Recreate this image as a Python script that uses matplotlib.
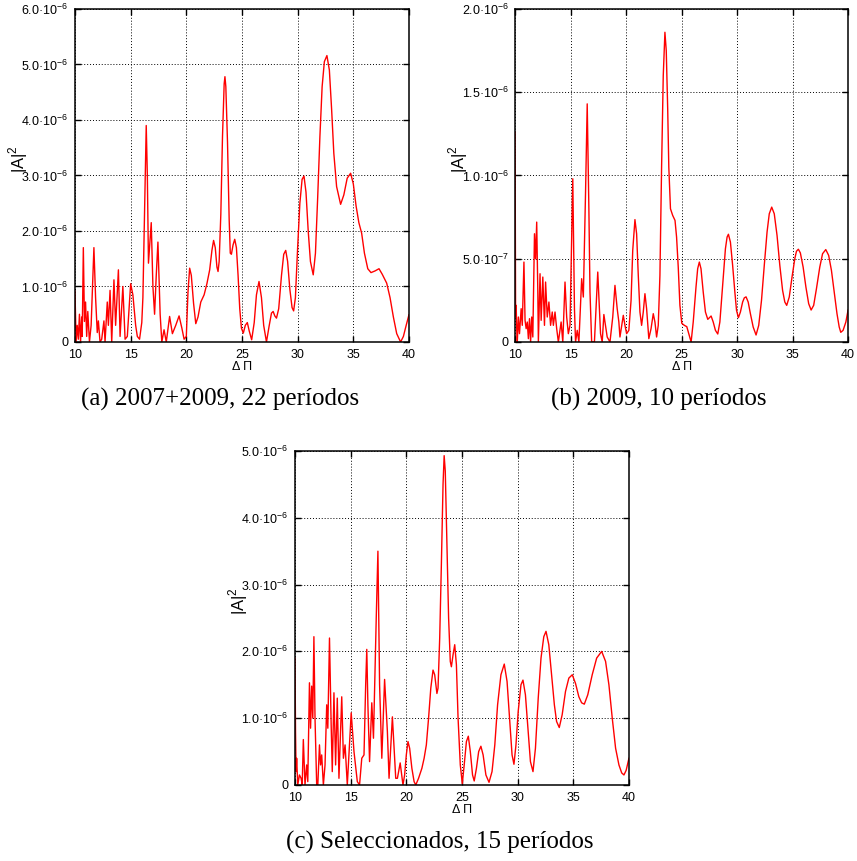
import matplotlib
matplotlib.use("Agg")
import matplotlib.pyplot as plt
from matplotlib.ticker import FixedLocator, FuncFormatter

plt.rcParams['font.family'] = ['Liberation Sans', 'DejaVu Sans']
plt.rcParams['mathtext.fontset'] = 'custom'
plt.rcParams['mathtext.rm'] = 'Liberation Sans'

# (a) 2007+2009, 22 periodos  -- |A|^2 in units of 1e-6
dp_a = [10.0, 10.1, 10.2, 10.3, 10.4, 10.5, 10.6, 10.65, 10.75, 10.85, 10.95, 11.05,
        11.15, 11.3, 11.45, 11.7, 11.85, 12.0, 12.1, 12.25, 12.4, 12.6, 12.7, 12.9,
        13.0, 13.15, 13.3, 13.5, 13.65, 13.9, 14.05, 14.3, 14.5, 14.7, 15.0, 15.2,
        15.45, 15.6, 15.8, 16.0, 16.1, 16.25, 16.4, 16.5, 16.6, 16.85, 17.0, 17.15,
        17.3, 17.45, 17.65, 17.8, 18.0, 18.2, 18.5, 18.75, 19.05, 19.35, 19.6, 19.8,
        20.0,
        20.15, 20.3, 20.45, 20.65, 20.85, 21.05, 21.3, 21.6, 21.85, 22.1, 22.3, 22.45,
        22.6, 22.75, 22.85, 22.95, 23.1, 23.25, 23.4, 23.47, 23.55, 23.7, 23.85, 23.95,
        24.05, 24.2,
        24.35, 24.5, 24.65, 24.8, 24.95, 25.12, 25.3, 25.48, 25.65, 25.87, 26.1, 26.3,
        26.53, 26.75, 26.95, 27.2, 27.45, 27.65, 27.8, 27.95, 28.1, 28.3, 28.55, 28.75,
        28.93, 29.1, 29.3, 29.5, 29.64, 29.8, 30.0, 30.2, 30.4, 30.57, 30.75, 30.95,
        31.15, 31.4, 31.6, 31.8, 32.0, 32.2, 32.4, 32.63, 32.85, 33.05, 33.25, 33.5,
        33.86, 34.15, 34.45, 34.76, 35.0, 35.25, 35.5, 35.75, 36.0, 36.3, 36.59, 36.95,
        37.31, 37.6, 38.0, 38.3, 38.6, 38.9, 39.25, 39.5, 39.75, 40.0]
pw_a = [0.92, 0.0, 0.3, 0.05, 0.5, 0.0, 0.45, 0.1, 1.7, 0.37, 0.72, 0.1,
        0.55, 0.0, 0.3, 1.7, 0.8, 0.17, 0.38, 0.0, 0.05, 0.38, 0.0, 0.72,
        0.3, 0.93, 0.0, 1.12, 0.3, 1.3, 0.1, 1.0, 0.05, 0.1, 1.05, 0.85,
        0.3, 0.1, 0.05, 0.35, 0.8, 2.4, 3.9, 3.0, 1.42, 2.15, 1.0, 0.5,
        1.2, 1.8, 0.5, 0.0, 0.22, 0.0, 0.46, 0.15, 0.3, 0.47, 0.25, 0.05,
        0.1,
        0.9, 1.33, 1.2, 0.7, 0.33, 0.45, 0.72, 0.85, 1.05, 1.3, 1.65, 1.83,
        1.7, 1.35, 1.27, 1.45, 2.3, 3.7, 4.65, 4.78, 4.6, 3.6, 2.2, 1.6,
        1.58, 1.75,
        1.85, 1.7, 1.2, 0.6, 0.25, 0.16, 0.3, 0.35, 0.2, 0.04, 0.35, 0.85,
        1.09, 0.8, 0.3, 0.0, 0.3, 0.52, 0.55, 0.47, 0.43, 0.6, 1.2, 1.58,
        1.65, 1.45, 0.95, 0.62, 0.56, 0.8, 1.7, 2.5, 2.93, 2.99, 2.7, 2.0,
        1.45, 1.21, 1.6, 2.6, 3.7, 4.6, 5.05, 5.16, 4.9, 4.2, 3.4, 2.8,
        2.48, 2.65, 2.95, 3.04, 2.85, 2.45, 2.15, 1.96, 1.6, 1.32, 1.25, 1.28,
        1.32, 1.22, 1.06, 0.8, 0.45, 0.15, 0.0, 0.1, 0.3, 0.49]

# (b) 2009, 10 periodos  -- |A|^2 in units of 1e-7
dp_b = [10.0, 10.05, 10.1, 10.15, 10.2, 10.3, 10.4, 10.55, 10.65, 10.8, 10.9, 11.0,
        11.1, 11.2, 11.3, 11.4, 11.5, 11.6, 11.75, 11.85, 11.95, 12.05, 12.1, 12.25,
        12.35, 12.5, 12.65, 12.75, 12.9, 13.05, 13.2, 13.35, 13.45, 13.6, 13.75, 13.9,
        14.15, 14.3, 14.5, 14.65, 14.8, 14.95, 15.2, 15.35, 15.45, 15.6, 15.75, 16.0,
        16.15, 16.35, 16.5, 16.65, 16.75, 16.9, 17.15, 17.45, 17.7, 17.85, 18.0, 18.3,
        18.55, 18.8, 19.0, 19.2, 19.35, 19.45, 19.75,
        19.9, 20.05, 20.25, 20.45, 20.6, 20.8, 20.95, 21.1, 21.25, 21.4, 21.55, 21.7,
        21.85, 22.05, 22.25, 22.45, 22.6, 22.75, 22.9, 23.05, 23.2, 23.35, 23.5, 23.62,
        23.75, 23.85, 24.0, 24.2,
        24.41, 24.55, 24.7, 24.85, 25.02, 25.25, 25.47, 25.65, 25.86, 26.05, 26.3, 26.45,
        26.6, 26.75, 26.95, 27.15, 27.36, 27.5, 27.66, 27.85, 28.05, 28.26, 28.45, 28.7,
        28.95, 29.1, 29.22, 29.4, 29.6, 29.8, 29.95, 30.12, 30.3, 30.5, 30.65, 30.81,
        31.0, 31.2, 31.45, 31.71, 31.95, 32.2, 32.45, 32.7, 32.9, 33.12, 33.35, 33.6,
        33.85, 34.1, 34.3, 34.47, 34.7, 34.95, 35.2, 35.35, 35.52, 35.7, 35.95, 36.2,
        36.45, 36.67, 36.9, 37.15, 37.45, 37.7, 37.99, 38.25, 38.5, 38.75, 39.0, 39.2,
        39.34, 39.55, 39.8, 40.0]
pw_b = [12.6, 1.5, 2.2, 0.8, 0.0, 1.5, 0.5, 2.0, 1.0, 4.8, 1.3, 0.8,
        1.2, 0.2, 1.4, 0.0, 1.5, 0.3, 6.5, 5.0, 7.2, 3.0, 0.0, 4.1,
        1.3, 3.9, 1.0, 3.6, 1.5, 2.4, 1.0, 1.8, 1.0, 1.8, 0.8, 0.0,
        1.2, 0.0, 3.6, 1.5, 0.5, 1.0, 9.8, 2.0, 0.0, 0.7, 0.0, 3.8,
        2.7, 9.0, 14.3, 8.0, 3.0, 0.0, 0.0, 4.2, 0.5, 0.0, 1.65, 0.3,
        0.0, 1.5, 3.4, 2.0, 1.2, 0.3, 1.6,
        1.0, 0.5, 0.7, 2.5, 5.5, 7.35, 6.5, 4.0, 1.8, 1.0, 1.8, 2.9,
        2.0, 0.2, 0.8, 1.7, 1.2, 0.3, 1.0, 4.0, 10.5, 16.0, 18.6, 17.5,
        14.0, 10.5, 8.0, 7.6,
        7.3, 6.3, 4.5, 2.2, 1.12, 1.0, 0.92, 0.5, 0.0, 1.2, 3.3, 4.4,
        4.8, 4.4, 3.0, 1.8, 1.36, 1.45, 1.56, 1.2, 0.7, 0.48, 1.2, 3.4,
        5.6, 6.3, 6.47, 6.0, 4.6, 3.0, 1.9, 1.46, 1.8, 2.4, 2.65, 2.71,
        2.4, 1.7, 0.9, 0.42, 1.0, 2.5, 4.6, 6.6, 7.7, 8.1, 7.7, 6.4,
        4.6, 3.1, 2.4, 2.2, 2.7, 3.9, 5.0, 5.45, 5.57, 5.35, 4.5, 3.3,
        2.3, 1.92, 2.2, 3.2, 4.5, 5.3, 5.55, 5.2, 4.3, 3.0, 1.7, 0.9,
        0.58, 0.7, 1.2, 1.92]

# (c) Seleccionados, 15 periodos  -- |A|^2 in units of 1e-6
dp_c = [10.0, 10.05, 10.1, 10.15, 10.25, 10.4, 10.55, 10.65, 10.75, 10.85, 10.9, 11.05,
        11.15, 11.3, 11.4, 11.5, 11.6, 11.7, 11.8, 11.95, 12.05, 12.2, 12.3, 12.4,
        12.55, 12.7, 12.85, 12.95, 13.1, 13.25, 13.35, 13.5, 13.65, 13.8, 13.95, 14.2,
        14.35, 14.5, 14.7, 15.05, 15.3, 15.6, 15.8, 16.0, 16.2, 16.35, 16.45, 16.55,
        16.7, 16.9, 17.05, 17.3, 17.45, 17.6, 17.8, 18.05, 18.3, 18.45, 18.75, 19.05,
        19.2, 19.45, 19.7, 19.85,
        20.0, 20.15, 20.3, 20.5, 20.7, 20.85, 21.1, 21.4, 21.6, 21.8, 22.0, 22.2,
        22.4, 22.55, 22.75, 22.85, 23.0, 23.15, 23.3, 23.4, 23.5, 23.65, 23.8, 23.95,
        24.05, 24.2,
        24.35, 24.5, 24.65, 24.85, 25.03, 25.2, 25.4, 25.57, 25.75, 25.95, 26.1, 26.3,
        26.5, 26.7, 26.9, 27.15, 27.43, 27.7, 27.95, 28.2, 28.5, 28.8, 29.05, 29.3,
        29.5, 29.67, 29.85, 30.05, 30.3, 30.48, 30.7, 30.95, 31.15, 31.38, 31.6, 31.85,
        32.1, 32.35, 32.55, 32.8, 33.05, 33.3, 33.5, 33.74, 34.0, 34.3, 34.6, 34.91,
        35.2, 35.5, 35.75, 35.99, 36.3, 36.7, 37.1, 37.55, 37.9, 38.2, 38.5, 38.8,
        39.1, 39.35, 39.55, 39.75, 40.0]
pw_c = [1.9, 0.8, 0.2, 0.4, 0.0, 0.15, 0.1, 0.0, 0.68, 0.2, 0.0, 0.3,
        0.05, 1.53, 0.85, 1.48, 1.0, 2.22, 1.0, 0.0, 0.0, 0.6, 0.3, 0.45,
        0.0, 0.3, 1.2, 0.85, 2.2, 0.9, 0.2, 1.38, 0.3, 1.3, 0.1, 1.32,
        0.4, 0.6, 0.0, 1.08, 0.5, 0.05, 0.0, 0.4, 0.45, 1.5, 2.03, 1.2,
        0.35, 1.23, 0.7, 2.5, 3.5, 1.5, 0.4, 1.58, 0.8, 0.1, 1.02, 0.1,
        0.1, 0.33, 0.0, 0.15,
        0.45, 0.65, 0.55, 0.25, 0.05, 0.0, 0.1, 0.25, 0.4, 0.6, 1.0, 1.45,
        1.72, 1.65, 1.37, 1.45, 2.2, 3.3, 4.5, 4.93, 4.7, 3.6, 2.5, 1.85,
        1.77, 1.95,
        2.1, 1.8, 1.0, 0.3, 0.02, 0.3, 0.65, 0.73, 0.5, 0.15, 0.06, 0.25,
        0.5, 0.58, 0.45, 0.15, 0.04, 0.2, 0.6, 1.2, 1.65, 1.81, 1.55, 0.95,
        0.45, 0.31, 0.6, 1.1, 1.5, 1.57, 1.35, 0.8, 0.35, 0.2, 0.55, 1.3,
        1.9, 2.22, 2.3, 2.1, 1.65, 1.2, 0.95, 0.86, 1.05, 1.4, 1.6, 1.65,
        1.52, 1.32, 1.23, 1.21, 1.35, 1.65, 1.9, 2.0, 1.85, 1.5, 1.0, 0.55,
        0.3, 0.18, 0.15, 0.22, 0.4]

captions = ["(a) 2007+2009, 22 períodos",
            "(b) 2009, 10 períodos",
            "(c) Seleccionados, 15 períodos"]


def sci_label(v, p):
    if v == 0:
        return "0"
    e = 0
    m = v
    while abs(m) < 1:
        m *= 10
        e -= 1
    return f"{m:.1f}·10$^{{{e}}}$"


def draw_panel(ax, x, y, scale, yticks, ymax):
    ax.plot(x, [v * scale for v in y], color="red", lw=1.0, solid_joinstyle="round")
    ax.set_xlim(10, 40)
    ax.set_ylim(0, ymax)
    ax.xaxis.set_major_locator(FixedLocator([10, 15, 20, 25, 30, 35, 40]))
    ax.yaxis.set_major_locator(FixedLocator(yticks))
    ax.yaxis.set_major_formatter(FuncFormatter(sci_label))
    ax.tick_params(direction="in", top=True, right=True, length=4, width=1,
                   labelsize=9)
    ax.tick_params(axis="x", pad=5)
    ax.tick_params(axis="y", pad=4.5)
    ax.grid(True, color="black", linestyle=(0, (1, 2)), lw=0.7)
    for s in ax.spines.values():
        s.set_linewidth(1.1)
    ax.set_xlabel("Δ Π", fontsize=9, labelpad=0)
    ax.set_ylabel("|A|$^2$", fontsize=12)
    ax.yaxis.set_label_coords(-0.135, 0.55)


fig = plt.figure(figsize=(8.57, 8.61), dpi=100)

ax_a = fig.add_axes([0.0875, 0.6028, 0.3897, 0.3868])
draw_panel(ax_a, dp_a, pw_a, 1e-6, [0, 1e-6, 2e-6, 3e-6, 4e-6, 5e-6, 6e-6], 6e-6)

ax_b = fig.add_axes([0.601, 0.6028, 0.3886, 0.3868])
draw_panel(ax_b, dp_b, pw_b, 1e-7, [0, 5e-7, 1e-6, 1.5e-6, 2e-6], 2e-6)

ax_c = fig.add_axes([0.3442, 0.0883, 0.3897, 0.3879])
draw_panel(ax_c, dp_c, pw_c, 1e-6, [0, 1e-6, 2e-6, 3e-6, 4e-6, 5e-6], 5e-6)

cap_font = ['Liberation Serif', 'DejaVu Serif']
fig.text(0.257, 0.5366, captions[0], ha="center", va="center", fontsize=18, family=cap_font)
fig.text(0.769, 0.5366, captions[1], ha="center", va="center", fontsize=18, family=cap_font)
fig.text(0.513, 0.022, captions[2], ha="center", va="center", fontsize=18, family=cap_font)

fig.savefig("out.png", dpi=100)
